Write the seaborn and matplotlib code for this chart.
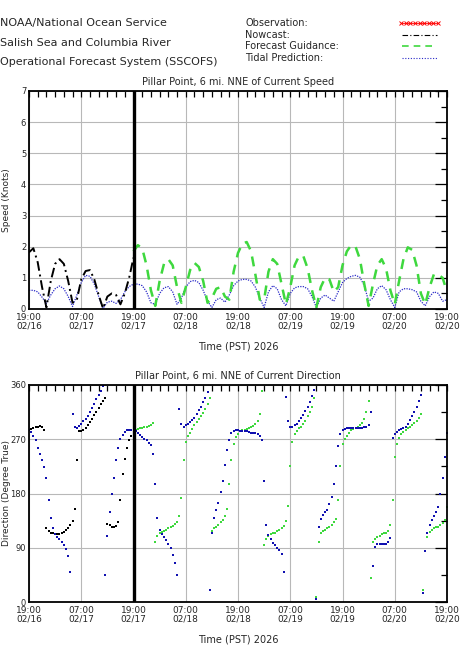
import matplotlib
matplotlib.use("Agg")
import matplotlib.pyplot as plt
import matplotlib.dates as mdates
from matplotlib.lines import Line2D
from matplotlib.ticker import MultipleLocator
import numpy as np
import pandas as pd
import seaborn as sns

# ---- data ----
t_start = pd.Timestamp("2026-02-16 19:00")
t_end = pd.Timestamp("2026-02-20 19:00")
forecast_start = pd.Timestamp("2026-02-17 19:00")

# speed (knots), hourly
nowcast_speed = [1.82, 1.95, 1.50, 0.70, 0.05, 0.90, 1.45, 1.60, 1.45, 0.90, 0.20, 0.30,
                 0.95, 1.22, 1.25, 0.95, 0.45, 0.02, 0.40, 0.50, 0.45, 0.15, 0.50, 1.00,
                 1.65]
forecast_speed = [1.85, 2.05, 1.95, 1.40, 0.60, 0.10, 0.90, 1.45, 1.60, 1.40, 0.70, 0.20,
                  0.70, 1.25, 1.48, 1.35, 0.90, 0.20, 0.35, 0.65, 0.70, 0.40, 0.30, 1.20,
                  1.80, 2.10, 2.15, 1.85, 1.10, 0.30, 0.30, 1.20, 1.60, 1.45, 0.80, 0.15,
                  0.70, 1.40, 1.70, 1.70, 1.30, 0.60, 0.05, 0.70, 1.00, 0.95, 0.55, 0.70,
                  1.40, 1.85, 2.05, 2.00, 1.60, 0.80, 0.10, 0.80, 1.40, 1.60, 1.30, 0.60,
                  0.15, 0.90, 1.60, 1.98, 1.90, 1.40, 0.50, 0.15, 0.70, 1.12, 1.10, 1.00,
                  0.55]
tidal_speed = [0.60, 0.60, 0.55, 0.38, 0.18, 0.45, 0.65, 0.74, 0.65, 0.40, 0.08, 0.45,
               0.85, 1.08, 1.05, 0.80, 0.40, 0.02, 0.22, 0.25, 0.18, 0.30, 0.55, 0.72,
               0.80, 0.80, 0.75, 0.55, 0.20, 0.15, 0.50, 0.68, 0.72, 0.55, 0.15, 0.35,
               0.70, 0.88, 0.92, 0.85, 0.60, 0.25, 0.05, 0.30, 0.35, 0.22, 0.45, 0.75,
               0.90, 0.95, 0.95, 0.90, 0.70, 0.35, 0.05, 0.55, 0.75, 0.65, 0.30, 0.10,
               0.50, 0.68, 0.72, 0.72, 0.65, 0.40, 0.05, 0.35, 0.45, 0.35, 0.25, 0.55,
               0.85, 0.98, 1.05, 1.08, 1.02, 0.75, 0.25, 0.35, 0.65, 0.75, 0.62, 0.30,
               0.05, 0.55, 0.65, 0.65, 0.62, 0.55, 0.25, 0.10, 0.40, 0.55, 0.50, 0.25,
               0.30]

# direction (degree true), every 30 min
nowcast_dir = [285, 287, 289, 290, 291, 292, 291, 286, 122, 117, 115, 114,
               113, 113, 113, 114, 116, 119, 123, 128, 135, 155, 235, 283,
               284, 286, 289, 294, 299, 304, 310, 316, 322, 328, 334, 338,
               129, 127, 125, 124, 126, 132, 170, 212, 238, 256, 268, 276,
               281]
forecast_dir = [285, 286, 287, 288, 289, 290, 291, 292, 293, 297, 100, 110,
                114, 116, 118, 120, 122, 124, 126, 129, 133, 142, 172, 235,
                266, 276, 281, 287, 293, 298, 304, 309, 314, 320, 328, 338,
                118, 122, 125, 128, 132, 136, 142, 155, 195, 235, 262, 273,
                279, 283, 285, 286, 287, 288, 290, 292, 295, 300, 312, 350,
                95, 105, 110, 112, 114, 115, 117, 119, 122, 126, 135, 160,
                225, 266, 278, 284, 288, 291, 296, 301, 308, 315, 324, 338,
                8, 100, 115, 118, 120, 122, 125, 128, 132, 138, 170, 225,
                262, 270, 276, 281, 285, 287, 289, 291, 293, 297, 303, 315,
                333, 40, 100, 105, 108, 110, 112, 114, 115, 118, 128, 170,
                240, 262, 272, 278, 282, 285, 288, 291, 294, 297, 301, 305,
                312, 20, 85, 108, 116, 120, 123, 124, 125, 127, 131, 136,
                158]
tidal_dir = [285, 282, 276, 268, 256, 246, 236, 224, 205, 170, 140, 122,
             113, 108, 104, 99, 94, 88, 76, 50, 312, 290, 289, 292,
             296, 300, 304, 309, 315, 322, 329, 336, 343, 350, 358, 45,
             110, 150, 180, 206, 235, 256, 270, 277, 282, 285, 286, 286,
             285, 283, 280, 277, 274, 271, 268, 264, 260, 245, 195, 140,
             120, 113, 108, 103, 97, 90, 78, 64, 45, 320, 295, 291,
             293, 296, 299, 302, 306, 312, 318, 324, 331, 339, 348, 20,
             115, 140, 152, 165, 182, 200, 228, 252, 268, 280, 284, 285,
             285, 284, 284, 283, 283, 282, 281, 281, 280, 278, 275, 268,
             200, 128, 111, 104, 98, 94, 90, 86, 80, 50, 340, 300,
             290, 290, 293, 296, 300, 305, 311, 317, 324, 332, 341, 352,
             5, 125, 138, 145, 150, 153, 162, 174, 195, 225, 258, 278,
             285, 287, 288, 288, 288, 288, 288, 288, 288, 289, 290, 291,
             293, 315, 60, 91, 96, 97, 97, 97, 97, 99, 107, 272,
             278, 282, 285, 287, 289, 291, 296, 302, 309, 316, 324, 334,
             344, 15, 85, 115, 128, 136, 142, 150, 158, 180, 205, 240,
             280]

header_lines = ["NOAA/National Ocean Service",
                "Salish Sea and Columbia River",
                "Operational Forecast System (SSCOFS)"]
legend_labels = ["Observation:", "Nowcast:", "Forecast Guidance:", "Tidal Prediction:"]


def hourly(n, start, step_h):
    return start + pd.to_timedelta(np.arange(n) * step_h, unit="h")


GREEN = "#3ed83e"
BLUE_LINE = "#2a2ac8"
BLUE_DOT = "#1010b0"

sns.set_style("white")
plt.rcParams["font.family"] = ["DejaVu Sans"]

W, H = 474, 654
fig = plt.figure(figsize=(W / 100, H / 100), dpi=100)
ax1 = fig.add_axes([29 / W, 1 - 309 / H, 418 / W, 218 / H])
ax2 = fig.add_axes([29 / W, 1 - 602 / H, 418 / W, 217 / H])

# ---- speed panel ----
sns.lineplot(x=hourly(len(tidal_speed), t_start, 1), y=tidal_speed, ax=ax1,
             color=BLUE_LINE, linestyle=(0, (1, 1)), linewidth=0.9)
sns.lineplot(x=hourly(len(nowcast_speed), t_start, 1), y=nowcast_speed, ax=ax1,
             color="black", linestyle=(0, (5, 2, 1, 2)), linewidth=1.4)
sns.lineplot(x=hourly(len(forecast_speed), forecast_start, 1), y=forecast_speed, ax=ax1,
             color=GREEN, linestyle=(0, (4, 3)), linewidth=1.8)

# ---- direction panel ----
sns.scatterplot(x=hourly(len(forecast_dir), forecast_start, 0.5), y=forecast_dir, ax=ax2,
                color=GREEN, s=2.0, marker="s", linewidth=0)
sns.scatterplot(x=hourly(len(nowcast_dir), t_start, 0.5), y=nowcast_dir, ax=ax2,
                color="black", s=2.2, marker="s", linewidth=0)
sns.scatterplot(x=hourly(len(tidal_dir), t_start, 0.5), y=tidal_dir, ax=ax2,
                color=BLUE_DOT, s=3.5, marker="s", linewidth=0)

for ax, title, ylabel, ymax, ymaj, ymin in [
        (ax1, "Pillar Point, 6 mi. NNE of Current Speed", "Speed (Knots)", 7, 1, 0.5),
        (ax2, "Pillar Point, 6 mi. NNE of Current Direction", "Direction (Degree True)", 360, 90, 45)]:
    ax.set_xlim(t_start, t_end)
    ax.set_ylim(0, ymax)
    ax.xaxis.set_major_locator(mdates.HourLocator(byhour=[7, 19]))
    ax.xaxis.set_major_formatter(mdates.DateFormatter("%H:%M\n%m/%d"))
    ax.xaxis.set_minor_locator(mdates.HourLocator(byhour=range(1, 24, 2)))
    ax.yaxis.set_major_locator(MultipleLocator(ymaj))
    ax.yaxis.set_minor_locator(MultipleLocator(ymin))
    ax.grid(True, which="major", color="#b8b8b8", linewidth=0.8)
    ax.set_axisbelow(True)
    ax.tick_params(which="both", direction="in", top=True, right=True,
                   labelsize=6.5, color="black", width=0.9, pad=3)
    ax.tick_params(axis="y", labelsize=6, pad=2)
    ax.tick_params(axis="x", which="both", length=4.5)
    ax.tick_params(axis="y", which="major", length=9)
    ax.tick_params(axis="y", which="minor", length=4.5)
    for lab in ax.get_xticklabels():
        lab.set_linespacing(0.9)
    for sp in ax.spines.values():
        sp.set_linewidth(1.3)
        sp.set_color("black")
    ax.axvline(forecast_start, color="black", linewidth=2.4)
    ax.set_title(title, fontsize=7, pad=4)
    ax.set_ylabel(ylabel, fontsize=6.5)
    ax.yaxis.set_label_coords(-0.043, 0.5)
    ax.set_xlabel("Time (PST) 2026", fontsize=7, labelpad=8)

# ---- header ----
for i, txt in enumerate(header_lines):
    fig.text(0.0, 1 - (23 + i * 19.5) / H, txt, fontsize=8, va="center", ha="left")

for i, txt in enumerate(legend_labels):
    fig.text(245 / W, 1 - (23 + i * 11.7) / H, txt, fontsize=7, va="center", ha="left")

leg_y = [1 - (23 + i * 11.7) / H for i in range(4)]
fig.add_artist(Line2D(np.linspace(401, 438, 9) / W, [leg_y[0]] * 9, transform=fig.transFigure,
                      color="red", marker="x", markersize=3, linewidth=0.6, markeredgewidth=0.7))
fig.add_artist(Line2D([402 / W, 437 / W], [leg_y[1]] * 2, transform=fig.transFigure,
                      color="black", linestyle=(0, (5, 2, 1, 2)), linewidth=0.8))
fig.add_artist(Line2D([402 / W, 437 / W], [leg_y[2]] * 2, transform=fig.transFigure,
                      color=GREEN, linestyle=(0, (4, 3)), linewidth=1.2))
fig.add_artist(Line2D([402 / W, 437 / W], [leg_y[3]] * 2, transform=fig.transFigure,
                      color=BLUE_LINE, linestyle=(0, (1, 1.5)), linewidth=0.8))

fig.savefig("out.png", dpi=100)
